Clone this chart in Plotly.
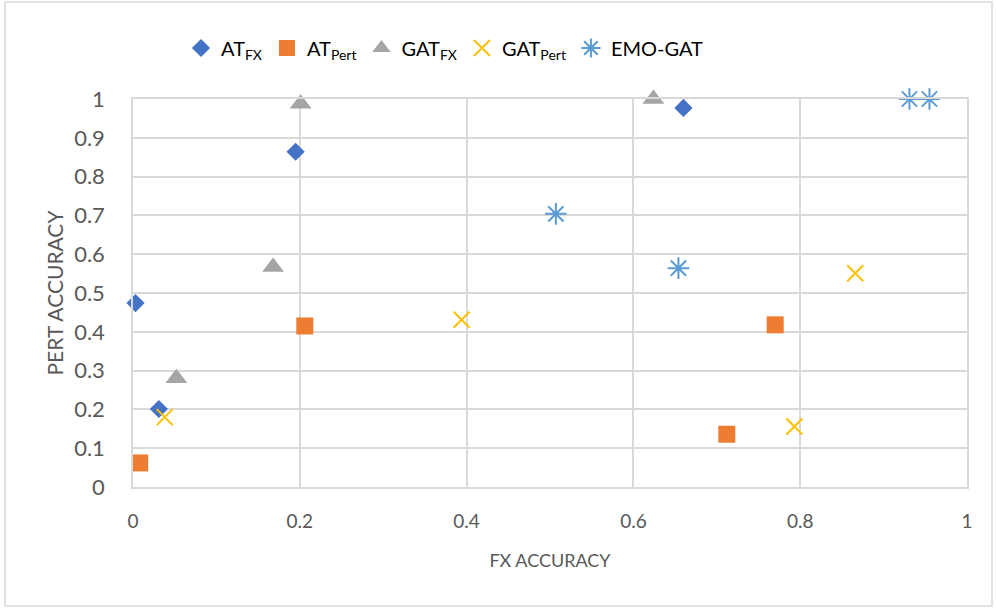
import plotly.graph_objects as go

# Accuracy pairs (FX accuracy, Pert accuracy) for each method
at_fx_x = [0.003, 0.031, 0.195, 0.660]
at_fx_y = [0.474, 0.201, 0.864, 0.977]

at_pert_x = [0.008, 0.206, 0.770, 0.712]
at_pert_y = [0.062, 0.415, 0.418, 0.136]

gat_fx_x = [0.201, 0.168, 0.052, 0.624]
gat_fx_y = [0.988, 0.567, 0.280, 1.000]

gat_pert_x = [0.038, 0.394, 0.866, 0.793]
gat_pert_y = [0.180, 0.431, 0.551, 0.156]

emo_gat_x = [0.507, 0.654, 0.931, 0.955]
emo_gat_y = [0.704, 0.564, 1.000, 1.000]

tick_vals_x = [0, 0.2, 0.4, 0.6, 0.8, 1]
tick_text_x = ["0", "0.2", "0.4", "0.6", "0.8", "1"]
tick_vals_y = [0, 0.1, 0.2, 0.3, 0.4, 0.5, 0.6, 0.7, 0.8, 0.9, 1]
tick_text_y = ["0", "0.1", "0.2", "0.3", "0.4", "0.5", "0.6", "0.7", "0.8", "0.9", "1"]

FONT = "Lato"
GRID = "#D9D9D9"
TXT = "#595959"

fig = go.Figure()
fig.add_trace(go.Scatter(x=at_fx_x, y=at_fx_y, mode="markers", name="AT<sub>FX</sub>", cliponaxis=False,
                         marker=dict(symbol="diamond", size=14, color="#4472C4")))
fig.add_trace(go.Scatter(x=at_pert_x, y=at_pert_y, mode="markers", name="AT<sub>Pert</sub>", cliponaxis=False,
                         marker=dict(symbol="square", size=17, color="#ED7D31")))
fig.add_trace(go.Scatter(x=gat_fx_x, y=gat_fx_y, mode="markers", name="GAT<sub>FX</sub>", cliponaxis=False,
                         marker=dict(symbol="triangle-up", size=19, color="#A5A5A5")))
fig.add_trace(go.Scatter(x=gat_pert_x, y=gat_pert_y, mode="markers", name="GAT<sub>Pert</sub>", cliponaxis=False,
                         marker=dict(symbol="x-thin-open", size=16, color="#FFC000",
                                     line=dict(color="#FFC000", width=2))))
fig.add_trace(go.Scatter(x=emo_gat_x, y=emo_gat_y, mode="markers", name="EMO-GAT", cliponaxis=False,
                         marker=dict(symbol="asterisk-open", size=18, color="#5B9BD5",
                                     line=dict(color="#5B9BD5", width=2))))

W, H = 996, 608
ml, mr, mt, mb = 133, 29, 99, 121
pw, ph = W - ml - mr, H - mt - mb


def px_to_paper_x(px):
    return (px - ml) / pw


def px_to_paper_y(py):
    return (H - mb - py) / ph


fig.update_layout(
    width=W, height=H,
    margin=dict(l=ml, r=mr, t=mt, b=mb),
    paper_bgcolor="white", plot_bgcolor="white",
    font=dict(family=FONT, color=TXT, size=20),
    showlegend=True,
    legend=dict(orientation="h", x=px_to_paper_x(445), xanchor="center", y=px_to_paper_y(48), yanchor="middle",
                font=dict(family=FONT, size=20, color="#000000"),
                itemwidth=30, tracegroupgap=0, bgcolor="rgba(0,0,0,0)"),
    xaxis=dict(range=[0, 1], tickvals=tick_vals_x, ticktext=tick_text_x,
               showgrid=True, gridcolor=GRID, gridwidth=1.5,
               showline=True, linecolor=GRID, linewidth=1.5, mirror=True,
               zeroline=False, ticks="", ticklabelstandoff=16,
               tickfont=dict(family=FONT, size=19, color=TXT),
               title=dict(text="FX ACCURACY", font=dict(family=FONT, size=18, color=TXT), standoff=24)),
    yaxis=dict(range=[0, 1], tickvals=tick_vals_y, ticktext=tick_text_y,
               showgrid=True, gridcolor=GRID, gridwidth=1.5,
               showline=True, linecolor=GRID, linewidth=1.5, mirror=True,
               zeroline=False, ticks="", ticklabelstandoff=22,
               tickfont=dict(family=FONT, size=22, color=TXT),
               title=dict(text="PERT ACCURACY", font=dict(family=FONT, size=21, color=TXT), standoff=5)),
    shapes=[dict(type="rect", xref="paper", yref="paper",
                 x0=px_to_paper_x(5), x1=px_to_paper_x(992),
                 y0=px_to_paper_y(606), y1=px_to_paper_y(2),
                 line=dict(color="#D9D9D9", width=1.5), layer="below")],
)

fig.write_html("out.html")
